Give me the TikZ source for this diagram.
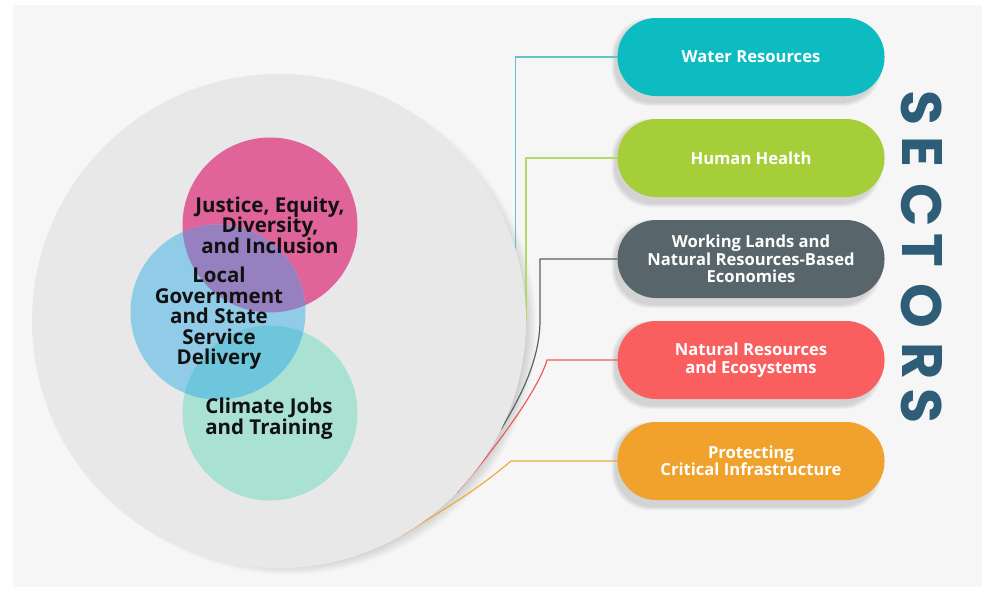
\documentclass[tikz,border=0pt]{standalone}
\usepackage{fontspec}
\setmainfont{Open Sans}
\newfontfamily\secfont{Poppins}
\definecolor{panelc}{HTML}{F6F6F6}
\definecolor{cgray}{HTML}{E8E8E8}
\definecolor{pinkc}{HTML}{E0649A}
\definecolor{bluec}{HTML}{90CCE8}
\definecolor{greenc}{HTML}{A9E2D2}
\definecolor{purpc}{HTML}{9680C0}
\definecolor{tealov}{HTML}{6EC6DC}
\definecolor{pwater}{HTML}{0CBCC0}
\definecolor{phealth}{HTML}{A6CE39}
\definecolor{pwork}{HTML}{58666C}
\definecolor{pnat}{HTML}{F95F5E}
\definecolor{pprot}{HTML}{F0A22C}
\definecolor{lwater}{HTML}{62C3C8}
\definecolor{lhealth}{HTML}{B4D86A}
\definecolor{lwork}{HTML}{56626A}
\definecolor{lnat}{HTML}{EE5C5C}
\definecolor{lprot}{HTML}{EEAA40}
\definecolor{secc}{HTML}{2E5D78}
\definecolor{txtc}{HTML}{111111}
\pgfdeclarelayer{bg}
\pgfdeclarelayer{ln}
\pgfsetlayers{bg,ln,main}
\newcommand{\circtxt}{\fontsize{20.5}{20.5}\selectfont\bfseries}
\newcommand{\pilltxt}{\fontsize{16.6}{17.5}\selectfont\bfseries}
\newcommand{\pillshadow}[1]{%
  \foreach \k in {0,1,2,3}
    \fill[black,opacity=0.035,rounded corners=38pt]
      ([shift={({-3-\k},{7+\k})}]#1.south west) rectangle ([shift={({-6+\k},{3-\k})}]#1.north east);}
\tikzset{
  bigcirc/.style={circle, fill=cgray, minimum size=494pt, inner sep=0pt, outer sep=0pt},
  smallcirc/.style={circle, minimum size=175pt, inner sep=0pt, outer sep=0pt},
  ctext/.style={align=center, font=\circtxt, text=txtc, inner sep=0pt},
  pill/.style={rectangle, rounded corners=38.5pt, minimum width=267pt, minimum height=78pt,
    inner sep=0pt, outer sep=0pt, text=white, font=\pilltxt, align=center},
  conn/.style={line width=1.2pt},
  secletter/.style={font=\secfont\bfseries\fontsize{57}{57}\selectfont, text=secc, inner sep=0pt, rotate=-90}
}
\begin{document}
\begin{tikzpicture}[x=1pt,y=-1pt]
\useasboundingbox (0,0) rectangle (984,589);
\begin{pgfonlayer}{bg}
\fill[white] (0,0) rectangle (984,589);
\fill[panelc] (13,5) rectangle (982,587);
\end{pgfonlayer}

% big circle
\node[bigcirc] (gc) at (279,321) {};

\begin{pgfonlayer}{bg}
\foreach \k in {0,...,11}
  \fill[black,opacity=0.02] ([shift={(10pt,-6pt)}]gc.center) circle[radius={231pt+\k*1.5pt}];
\end{pgfonlayer}

% colored circles
\node[smallcirc, fill=pinkc] (pink) at (270,225) {};
\node[smallcirc, fill=greenc] (green) at (270,413) {};
\node[smallcirc, fill=bluec] (blue) at (218,312) {};
\begin{scope}
  \clip (pink.center) circle[radius=87.5pt];
  \fill[purpc] (blue.center) circle[radius=87.5pt];
\end{scope}
\begin{scope}
  \clip (green.center) circle[radius=87.5pt];
  \fill[tealov] (blue.center) circle[radius=87.5pt];
\end{scope}

\node[ctext] (tjust) at (270,225) {Justice, Equity,\\Diversity,\\and Inclusion};
\node[ctext] (tlocal) at (219,318.5) {Local\\Government\\and State\\Service\\Delivery};
\node[ctext] (tclim) at (269,418.5) {Climate Jobs\\and Training};

% pills
\node[pill, fill=pwater] (water) at (751,57) {Water Resources};
\node[pill, fill=phealth] (health) at (751,158) {Human Health};
\node[pill, fill=pwork] (working) at (751,259) {Working Lands and\\Natural Resources-Based\\Economies};
\node[pill, fill=pnat] (natural) at (751,360) {Natural Resources\\and Ecosystems};
\node[pill, fill=pprot] (protect) at (751,461) {Protecting\\Critical Infrastructure};

\begin{pgfonlayer}{bg}
\pillshadow{water}
\pillshadow{health}
\pillshadow{working}
\pillshadow{natural}
\pillshadow{protect}
\end{pgfonlayer}

% SECTORS
\node[secletter] (s1) at (922,108) {S};
\node[secletter] (s2) at (922,152) {E};
\node[secletter] (s3) at (922,205) {C};
\node[secletter] (s4) at (922,250) {T};
\node[secletter] (s5) at (922,306) {O};
\node[secletter] (s6) at (922,361) {R};
\node[secletter] (s7) at (922,406) {S};

% connectors
\coordinate (b3) at (540,320);
\coordinate (b4) at (547,360);
\coordinate (b5) at (511,461);
\begin{pgfonlayer}{ln}
\draw[conn, lwater] (water.west) -| (gc.17);
\draw[conn, lhealth] (health.west) -| (gc.east);
\draw[conn, lwork] (working.west) -| (b3) .. controls (540,362) and (518,401) .. (gc.-26);
\draw[conn, lnat] (natural.west) -- (b4) .. controls (537,395) and (480,467) .. (gc.-44);
\draw[conn, lprot] (protect.west) -- (b5) .. controls (469,497) and (422,522) .. (gc.-60);
\end{pgfonlayer}
\end{tikzpicture}
\end{document}
